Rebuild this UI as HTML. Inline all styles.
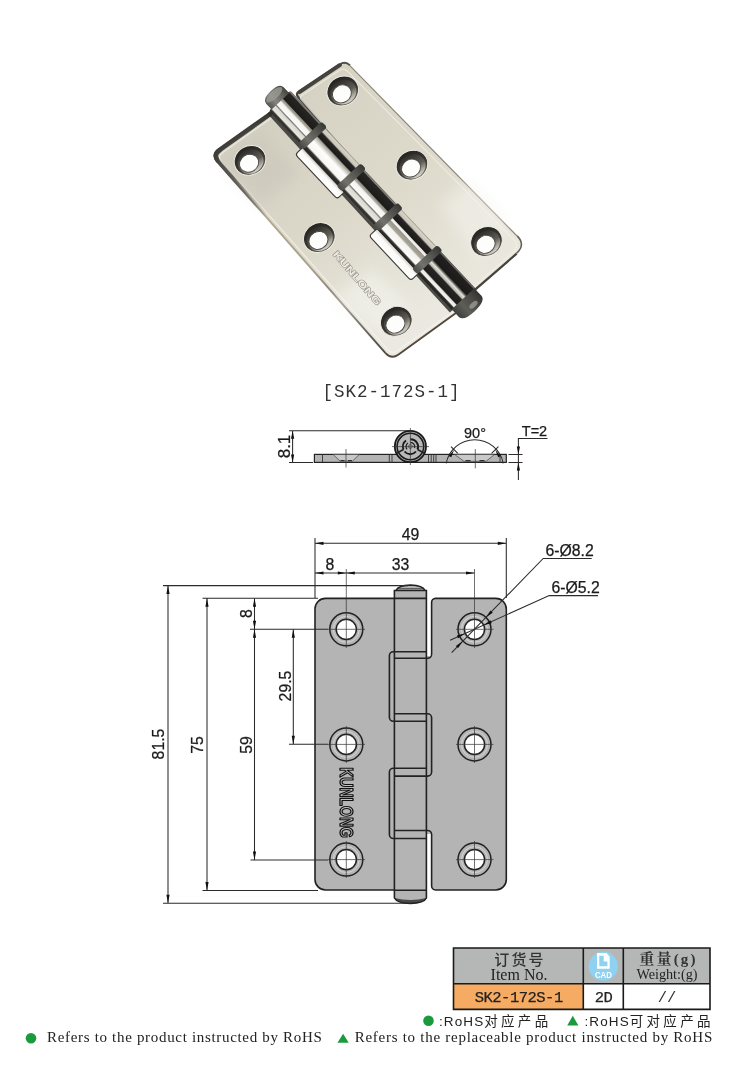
<!DOCTYPE html>
<html lang="zh">
<head>
<meta charset="utf-8">
<title>SK2-172S-1</title>
<style>
html,body{margin:0;padding:0;background:#fff;}
body{width:750px;height:1075px;overflow:hidden;position:relative;}
svg{display:block;position:absolute;left:0;top:0;will-change:transform;}
text{-webkit-font-smoothing:antialiased;}
.d{font-family:"Liberation Sans",sans-serif;font-size:15.800px;fill:#1a1a1a;stroke:#1a1a1a;stroke-width:0.250px;}
.ln{stroke:#2e2a2a;stroke-width:1.050;fill:none;}
.ol{stroke:#222;stroke-width:1.6;fill:none;}
.ar{fill:#111;stroke:none;}
.cl{stroke:#333;stroke-width:0.7;fill:none;}
</style>
</head>
<body>
<svg width="750" height="1075" viewBox="0 0 750 1075">
<defs>
<!--DEFS_S-->
<filter id="bl" x="-30%" y="-30%" width="160%" height="160%"><feGaussianBlur stdDeviation="7"/></filter>
<linearGradient id="gL" gradientUnits="userSpaceOnUse" x1="240" y1="130" x2="420" y2="335">
<stop offset="0" stop-color="#d3d0c1"/><stop offset="0.450" stop-color="#dbd8c9"/><stop offset="0.800" stop-color="#e6e4d9"/><stop offset="1" stop-color="#ebe9e1"/>
</linearGradient>
<linearGradient id="gR" gradientUnits="userSpaceOnUse" x1="330" y1="75" x2="500" y2="265">
<stop offset="0" stop-color="#d6d3c4"/><stop offset="0.500" stop-color="#dddacb"/><stop offset="1" stop-color="#eae8de"/>
</linearGradient>
<linearGradient id="gEdge" gradientUnits="userSpaceOnUse" x1="213.0" y1="155.0" x2="391.5" y2="358.5">
<stop offset="0" stop-color="#3d3b36"/><stop offset="0.160" stop-color="#45433d"/><stop offset="0.300" stop-color="#b0a78f"/><stop offset="0.560" stop-color="#a8a08a"/><stop offset="0.760" stop-color="#6b685f"/><stop offset="1" stop-color="#4a4842"/>
</linearGradient>
<linearGradient id="gEdgeIn" gradientUnits="userSpaceOnUse" x1="213" y1="155" x2="266" y2="216">
<stop offset="0" stop-color="#3d3b36"/><stop offset="0.350" stop-color="#4a4842"/><stop offset="1" stop-color="#8e8b80" stop-opacity="0"/>
</linearGradient>
<linearGradient id="gH" x1="0" y1="0" x2="0" y2="1">
<stop offset="0" stop-color="#262421"/><stop offset="0.600" stop-color="#3b3934"/><stop offset="1" stop-color="#6d6a61"/>
</linearGradient>
<linearGradient id="gH2" x1="0" y1="0" x2="0" y2="1">
<stop offset="0" stop-color="#2f2d29"/><stop offset="0.550" stop-color="#5f5c54"/><stop offset="0.820" stop-color="#aeaba1"/><stop offset="1" stop-color="#d5d2c9"/>
</linearGradient>
<linearGradient id="gB1" x1="0" y1="0" x2="1" y2="0">
<stop offset="0" stop-color="#2a2926"/><stop offset="0.070" stop-color="#3a3935"/><stop offset="0.120" stop-color="#e9e7e1"/><stop offset="0.260" stop-color="#dcd9d1"/><stop offset="0.300" stop-color="#77746c"/><stop offset="0.340" stop-color="#fbfbf9"/><stop offset="0.500" stop-color="#f4f3ef"/><stop offset="0.540" stop-color="#b3b0a6"/><stop offset="0.610" stop-color="#8c897f"/><stop offset="0.640" stop-color="#1d1c1a"/><stop offset="0.920" stop-color="#262522"/><stop offset="0.960" stop-color="#8b8982"/><stop offset="1" stop-color="#55534e"/>
</linearGradient>
<linearGradient id="gB2" x1="0" y1="0" x2="1" y2="0">
<stop offset="0" stop-color="#22211f"/><stop offset="0.100" stop-color="#34332f"/><stop offset="0.160" stop-color="#f7f6f3"/><stop offset="0.400" stop-color="#fdfdfc"/><stop offset="0.500" stop-color="#d2cfc6"/><stop offset="0.590" stop-color="#a29f95"/><stop offset="0.630" stop-color="#1c1b19"/><stop offset="0.800" stop-color="#262523"/><stop offset="0.850" stop-color="#c9c6b9"/><stop offset="0.960" stop-color="#d6d3c6"/><stop offset="1" stop-color="#8a877c"/>
</linearGradient>
<linearGradient id="gB4" x1="0" y1="0" x2="1" y2="0">
<stop offset="0" stop-color="#22211f"/><stop offset="0.080" stop-color="#34332f"/><stop offset="0.130" stop-color="#fbfaf8"/><stop offset="0.330" stop-color="#f3f2ee"/><stop offset="0.380" stop-color="#a8a499"/><stop offset="0.500" stop-color="#9a968a"/><stop offset="0.530" stop-color="#f6f5f2"/><stop offset="0.590" stop-color="#e6e4de"/><stop offset="0.620" stop-color="#1c1b19"/><stop offset="0.800" stop-color="#252422"/><stop offset="0.850" stop-color="#c9c6b9"/><stop offset="0.960" stop-color="#d6d3c6"/><stop offset="1" stop-color="#8a877c"/>
</linearGradient>
<linearGradient id="gB5" x1="0" y1="0" x2="1" y2="0">
<stop offset="0" stop-color="#22211f"/><stop offset="0.080" stop-color="#2e2d2a"/><stop offset="0.120" stop-color="#f4f3ef"/><stop offset="0.200" stop-color="#e9e7e1"/><stop offset="0.240" stop-color="#1f1e1c"/><stop offset="0.440" stop-color="#262523"/><stop offset="0.480" stop-color="#b9b6ad"/><stop offset="0.560" stop-color="#e4e2dc"/><stop offset="0.620" stop-color="#6b6860"/><stop offset="0.660" stop-color="#1b1a18"/><stop offset="0.930" stop-color="#222120"/><stop offset="0.970" stop-color="#6e6c66"/><stop offset="1" stop-color="#3e3d39"/>
</linearGradient>
<linearGradient id="gSlot" x1="0" y1="0" x2="1" y2="0">
<stop offset="0" stop-color="#ffffff"/><stop offset="0.650" stop-color="#fafaf8"/><stop offset="1" stop-color="#c9c7c0"/>
</linearGradient>
<linearGradient id="gRing" x1="0" y1="0" x2="1" y2="0">
<stop offset="0" stop-color="#474743"/><stop offset="0.300" stop-color="#73736e"/><stop offset="0.550" stop-color="#5f5f5a"/><stop offset="1" stop-color="#373734"/>
</linearGradient>
<linearGradient id="gCap2" x1="0" y1="0" x2="1" y2="0">
<stop offset="0" stop-color="#3f3f3b"/><stop offset="0.350" stop-color="#5e5e59"/><stop offset="0.700" stop-color="#4a4a46"/><stop offset="1" stop-color="#333330"/>
</linearGradient>
<linearGradient id="gCap" x1="0" y1="0" x2="1" y2="0">
<stop offset="0" stop-color="#55554f"/><stop offset="0.350" stop-color="#86867f"/><stop offset="0.700" stop-color="#66665f"/><stop offset="1" stop-color="#45453f"/>
</linearGradient>
<!--DEFS_E-->
</defs>
<rect width="750" height="1075" fill="#fff"/>
<!--PHOTO_S-->
<g id="photo">
<path d="M515.9,252.8 L471.5,291.2 Q470.0,292.5 468.7,291.0 L299.0,96.3 Q297.0,94.0 299.5,92.3 L340.2,65.1" fill="none" stroke="#45433d" stroke-width="4.500" stroke-linejoin="round"/>
<path d="M340.2,65.1 Q345.2,61.8 349.4,66.1" fill="none" stroke="#4f4d46" stroke-width="3.600"/>
<path d="M516.6,236.4 Q525.0,245.0 515.9,252.8" fill="none" stroke="#605d55" stroke-width="3.200"/>
<path d="M349.4,66.1 L516.6,236.4" fill="none" stroke="#8a8779" stroke-width="2.400"/>
<path d="M299.0,96.3 Q297.0,94.0 299.5,92.3 L340.2,65.1 Q345.2,61.8 349.4,66.1 L516.6,236.4 Q525.0,245.0 515.9,252.8 L471.5,291.2 Q470.0,292.5 468.7,291.0 Z" fill="url(#gR)"/>
<path d="M299.5,92.3 L340.2,65.1" fill="none" stroke="#45433d" stroke-width="3.600" stroke-linecap="round"/>
<path d="M302.0,98.3 Q300.0,96.0 302.5,94.3 L340.5,69.1 Q344.7,66.3 348.2,69.9 L514.0,237.9 Q521.0,245.0 513.5,251.6 L471.5,288.2 Q470.0,289.5 468.7,288.0 Z" fill="none" stroke="#f3f1ea" stroke-width="1.200" opacity="0.700" transform="translate(-0.800,1.200)"/>
<path d="M455.4,312.2 L398.0,353.8 Q391.5,358.5 386.2,352.5" fill="none" stroke="#54483c" stroke-width="3.800" stroke-linejoin="round"/>
<path d="M218.3,161.0 Q213.0,155.0 219.5,150.4 L270.4,114.2 Q272.0,113.0 273.4,114.5" fill="none" stroke="#3d3b36" stroke-width="5" stroke-linejoin="round"/>
<path d="M218.3,161.0 L386.2,352.5" fill="none" stroke="url(#gEdge)" stroke-width="3.800"/>
<path d="M218.3,161.0 Q213.0,155.0 219.5,150.4 L270.4,114.2 Q272.0,113.0 273.4,114.5 L455.6,309.5 Q457.0,311.0 455.4,312.2 L398.0,353.8 Q391.5,358.5 386.2,352.5 Z" fill="url(#gL)"/>
<path d="M219.5,150.4 L270.4,114.2" fill="none" stroke="#3d3b36" stroke-width="4" stroke-linecap="round"/>
<path d="M219.5,150.4 Q213.0,155.0 218.3,161.0 L266.6,216.1" fill="none" stroke="url(#gEdgeIn)" stroke-width="4.500" stroke-linecap="round"/>
<path d="M221.6,161.7 Q217.0,156.5 222.7,152.5 L270.4,118.7 Q272.0,117.5 273.4,119.0 L452.6,309.5 Q454.0,311.0 452.4,312.1 L397.7,350.5 Q392.0,354.5 387.4,349.3 Z" fill="none" stroke="#f7f5ef" stroke-width="1.300" opacity="0.700"/>
<path d="M330,300 L372,268 L410,308 L392,340 Z" fill="#f6f5f0" opacity="0.550" filter="url(#bl)"/>
<path d="M440,205 L470,180 L508,222 L480,262 Z" fill="#f4f3ee" opacity="0.500" filter="url(#bl)"/>
<path d="M222,160 L262,130 L300,172 L262,205 Z" fill="#c6c3b8" opacity="0.450" filter="url(#bl)"/>
<g transform="translate(250.0,160.4) rotate(-30)">
<ellipse rx="16.200" ry="14.500" fill="url(#gH)" stroke="#f2f0e9" stroke-width="0.900"/>
<ellipse rx="13.300" ry="12" cx="0" cy="1.200" fill="url(#gH2)"/>
<ellipse rx="9.800" ry="8.700" cx="-2.200" cy="2" fill="#fdfdfc" stroke="#4a4741" stroke-width="0.900"/>
</g>
<g transform="translate(319.3,237.6) rotate(-30)">
<ellipse rx="16.200" ry="14.500" fill="url(#gH)" stroke="#f2f0e9" stroke-width="0.900"/>
<ellipse rx="13.300" ry="12" cx="0" cy="1.200" fill="url(#gH2)"/>
<ellipse rx="9.800" ry="8.700" cx="-2.200" cy="2" fill="#fdfdfc" stroke="#4a4741" stroke-width="0.900"/>
</g>
<g transform="translate(396.3,321.3) rotate(-30)">
<ellipse rx="16.200" ry="14.500" fill="url(#gH)" stroke="#f2f0e9" stroke-width="0.900"/>
<ellipse rx="13.300" ry="12" cx="0" cy="1.200" fill="url(#gH2)"/>
<ellipse rx="9.800" ry="8.700" cx="-2.200" cy="2" fill="#fdfdfc" stroke="#4a4741" stroke-width="0.900"/>
</g>
<g transform="translate(342.8,91.0) rotate(-30)">
<ellipse rx="16.200" ry="14.500" fill="url(#gH)" stroke="#f2f0e9" stroke-width="0.900"/>
<ellipse rx="13.300" ry="12" cx="0" cy="1.200" fill="url(#gH2)"/>
<ellipse rx="9.800" ry="8.700" cx="-2.200" cy="2" fill="#fdfdfc" stroke="#4a4741" stroke-width="0.900"/>
</g>
<g transform="translate(412.0,165.2) rotate(-30)">
<ellipse rx="16.200" ry="14.500" fill="url(#gH)" stroke="#f2f0e9" stroke-width="0.900"/>
<ellipse rx="13.300" ry="12" cx="0" cy="1.200" fill="url(#gH2)"/>
<ellipse rx="9.800" ry="8.700" cx="-2.200" cy="2" fill="#fdfdfc" stroke="#4a4741" stroke-width="0.900"/>
</g>
<g transform="translate(486.5,241.5) rotate(-30)">
<ellipse rx="16.200" ry="14.500" fill="url(#gH)" stroke="#f2f0e9" stroke-width="0.900"/>
<ellipse rx="13.300" ry="12" cx="0" cy="1.200" fill="url(#gH2)"/>
<ellipse rx="9.800" ry="8.700" cx="-2.200" cy="2" fill="#fdfdfc" stroke="#4a4741" stroke-width="0.900"/>
</g>
<text transform="translate(332.400,254.500) rotate(49.300)" font-family="Liberation Sans,sans-serif" font-weight="bold" font-size="9.500px" textLength="68" lengthAdjust="spacingAndGlyphs" fill="#eeece5" stroke="#8f8c82" stroke-width="1" paint-order="stroke">KUNLONG</text>
<g transform="translate(269.7,92.1) rotate(-43.2)">
<path d="M-16.500,14 h6 v270 h-9z" fill="#2f2e2a" opacity="0.850"/>
<path d="M-24,66 q0,-3 3,-3 h7 v61 h-7 q-3,0 -3,-3z" fill="url(#gSlot)" stroke="#3a3833" stroke-width="1.100"/>
<path d="M-26,176 q0,-3 3,-3 h8 v61 h-8 q-3,0 -3,-3z" fill="url(#gSlot)" stroke="#3a3833" stroke-width="1.100"/>
<rect x="-13.0" y="13" width="29.0" height="46" rx="2" fill="url(#gB1)"/>
<rect x="-13.8" y="63" width="29.7" height="53" rx="2" fill="url(#gB2)"/>
<rect x="-14.6" y="120" width="30.4" height="50" rx="2" fill="url(#gB1)"/>
<rect x="-15.5" y="174" width="31.2" height="54" rx="2" fill="url(#gB4)"/>
<rect x="-16.4" y="232" width="32.0" height="53" rx="2" fill="url(#gB5)"/>
<rect x="-14.6" y="57" width="32.4" height="8" rx="3" fill="url(#gRing)"/>
<rect x="-15.4" y="114" width="33.1" height="8" rx="3" fill="url(#gRing)"/>
<rect x="-16.2" y="168" width="33.8" height="8" rx="3" fill="url(#gRing)"/>
<rect x="-17.1" y="226" width="34.6" height="8" rx="3" fill="url(#gRing)"/>
<path d="M-10.500,14 V6 q0,-6 12,-6 q12,0 12,6 V14z" fill="url(#gCap)"/>
<ellipse cx="1.500" cy="5" rx="10.500" ry="4" fill="#9b9b95" opacity="0.800"/>
<path d="M-16,283 V293 q0,7 15.500,7 q15.500,0 15.500,-7 V283z" fill="url(#gCap2)"/>
<ellipse cx="3" cy="294.500" rx="5" ry="2.500" fill="#a5a5a0" opacity="0.700"/>
</g>
</g>
<!--PHOTO_E-->
<!--LABEL_S-->
<text x="391.600" y="397.100" text-anchor="middle" font-family="Liberation Mono,monospace" font-size="17.500px" letter-spacing="1" fill="#333">[SK2-172S-1]</text>
<!--LABEL_E-->
<!--SIDE_S-->
<g id="side">
<!-- plate -->
<rect x="314.400" y="454.400" width="191.900" height="8" fill="#b4b4b4" stroke="#222" stroke-width="1.200"/>
<!-- countersinks lighter -->
<path d="M333,454.400 H359.500 L352.500,461 H340z" fill="#c9c9c9" stroke="#444" stroke-width="0.700"/>
<path d="M454.500,454.400 H494.800 L486,461.300 H464z" fill="#c9c9c9" stroke="#444" stroke-width="0.700"/>
<path d="M340.500,460.700 h4 M348,460.700 h4 M465.500,460.700 h5 M479.500,460.700 h5" stroke="#333" stroke-width="1.300"/>
<path d="M322.500,454.400 v8 M389.300,454.400 v8 M392,454.400 v8 M428.500,454.400 v8 M431.200,454.400 v8 M433.700,454.400 v8 M436,454.400 v8 M500,454.400 v8" stroke="#333" stroke-width="0.900"/>
<!-- barrel -->
<circle cx="410.400" cy="446.500" r="15.600" fill="#b4b4b4" stroke="#1a1a1a" stroke-width="1.800"/>
<circle cx="410.400" cy="446.500" r="13.300" fill="#b9b9b9" stroke="#1a1a1a" stroke-width="1.500"/>
<path d="M403.500,449.500 A7.500,7.500 0 0 1 406,440.500 M410.400,439.300 A7.300,7.300 0 0 1 417.500,449.500 M404.500,451.500 A7.500,7.500 0 0 0 416,451.500" fill="none" stroke="#1a1a1a" stroke-width="1.900"/>
<path d="M410.400,442.300 A4.300,4.300 0 0 1 414.500,448 M407,449.300 A4.300,4.300 0 0 1 408,443" fill="none" stroke="#222" stroke-width="1.300"/>
<circle cx="410.400" cy="446.500" r="1.800" fill="#ddd" stroke="#333" stroke-width="0.800"/>
<path d="M403.500,449.500 L397,453 M417.500,449.500 L424,453" stroke="#222" stroke-width="1.500" fill="none"/>
<path class="cl" d="M392,446.600 H429 M410.400,428 V465"/>
<path class="cl" d="M346,449 V467.500 M475.300,449 V468.300"/>
<!-- 8.1 dim -->
<path class="ln" d="M289,430.700 H410 M289,462.400 H313 M292.600,430.700 V462.400"/>
<path class="ar" d="M292.600,430.700 l-1.600,8 h3.200z M292.600,462.400 l-1.600,-8 h3.200z"/>
<text class="d" style="font-size:17px" transform="translate(290.300,446.500) rotate(-90)" text-anchor="middle">8.1</text>
<!-- 90 deg -->
<path class="ln" d="M446.200,463.300 A29,29 0 0 1 503.200,463.300"/>
<path class="ln" d="M457.800,453.400 L451,446.600 M491.600,453.400 L498.400,446.600"/>
<path class="ar" d="M454.200,449.800 l-5.500,6.200 l2.500,1.300z M495.200,449.800 l5.500,6.200 l-2.500,1.300z"/>
<text class="d" style="font-size:14.500px" x="475" y="438.300" text-anchor="middle">90°</text>
<!-- T=2 -->
<path class="ln" d="M547.500,438.500 H518.400 V480 M508.500,454.500 H522.500 M508.500,462.500 H522.500"/>
<path class="ar" d="M518.400,454.500 l-1.600,-8 h3.200z M518.400,462.500 l-1.600,8 h3.200z"/>
<text class="d" style="font-size:14.500px" x="534.500" y="435.500" text-anchor="middle">T=2</text>
</g>
<!--SIDE_E-->
<g id="front">
<!-- leaves -->
<path d="M325.5,598.4 H394.5 V890 H325.5 a10.5,10.5 0 0 1 -10.5,-10.5 V608.9 a10.5,10.5 0 0 1 10.5,-10.5z" fill="#b4b4b4"/>
<path d="M435.5,598.4 H495.8 a10.5,10.5 0 0 1 10.5,10.5 V879.5 a10.5,10.5 0 0 1 -10.5,10.5 H435.5 a4,4 0 0 1 -3.8,-4 V602.4 a4,4 0 0 1 3.8,-4z" fill="#b4b4b4"/>
<!-- pin body -->
<path d="M394.400,590.500 L396,590.500 Q398,585.300 410.400,585 Q423,585.300 425,590.500 L426.400,590.500 V898 Q424,903.200 410.400,903.500 Q397,903.200 394.400,898z" fill="#b4b4b4"/>
<path d="M394.400,898 Q397,903.200 410.400,903.500 Q424,903.200 426.400,898 Q410.400,902 394.400,898z" fill="#4a4a4a"/>
<!-- fill gap zone (426-432) for knuckles 2,3,4 -->
<rect x="426" y="656" width="6" height="178" fill="#b4b4b4"/>
<!-- outlines -->
<path class="ol" d="M394.5,598.400 H325.5 a10.5,10.5 0 0 0 -10.5,10.500 V879.5 a10.5,10.5 0 0 0 10.5,10.5 H394.5"/>
<path class="ol" d="M394.400,658.300 H427.600 a4,4 0 0 0 4,-4 V602.400 a4,4 0 0 1 3.900,-4 H495.800 a10.5,10.5 0 0 1 10.5,10.500 V879.500 a10.5,10.5 0 0 1 -10.5,10.5 H435.500 a4,4 0 0 1 -3.900,-4 V834.500 a4,4 0 0 0 -4,-4 H394.400"/>
<!-- pin -->
<path class="ol" d="M394.400,898 V590.500 H426.400 V898 Q424,903.200 410.400,903.500 Q397,903.200 394.400,898"/>
<path class="ol" d="M396,590.500 Q398,585.300 410.400,585 Q423,585.300 425,590.500" stroke-width="1.300"/>
<path d="M397.500,588.700 H423.300" stroke="#333" stroke-width="0.800" fill="none"/>
<path class="ol" d="M394.400,598.400 H426.400 M394.400,890.300 H426.400" />
<!-- left cutouts (knuckles 2 and 4) -->
<path class="ol" d="M426.400,651.700 H393.400 a4,4 0 0 0 -4,4 V717.300 a4,4 0 0 0 4,4 H426.400"/>
<path class="ol" d="M426.400,768.200 H393.400 a4,4 0 0 0 -4,4 V834.500 a4,4 0 0 0 4,4 H426.400"/>
<!-- knuckle 3 right outline -->
<path class="ol" d="M394.400,713.800 H427.600 a4,4 0 0 1 4,4 V772.100 a4,4 0 0 1 -4,4 H394.400"/>
<!-- holes -->
<g id="holes">
<g fill="#b4b4b4" stroke="#222" stroke-width="1.500">
<circle cx="346.300" cy="629.300" r="16.500"/><circle cx="474.500" cy="629.300" r="16.500"/>
<circle cx="346.300" cy="744.400" r="16.500"/><circle cx="474.500" cy="744.400" r="16.500"/>
<circle cx="346.300" cy="859.600" r="16.500"/><circle cx="474.500" cy="859.600" r="16.500"/>
</g>
<g fill="none" stroke="#dcdcdc" stroke-width="0.800">
<circle cx="346.3" cy="629.3" r="13"/><circle cx="474.5" cy="629.3" r="13"/>
<circle cx="346.3" cy="744.4" r="13"/><circle cx="474.5" cy="744.4" r="13"/>
<circle cx="346.3" cy="859.6" r="13"/><circle cx="474.5" cy="859.6" r="13"/>
</g>
<g fill="#fff" stroke="#222" stroke-width="1.500">
<circle cx="346.3" cy="629.3" r="10.100"/><circle cx="474.5" cy="629.3" r="10.100"/>
<circle cx="346.3" cy="744.4" r="10.100"/><circle cx="474.5" cy="744.4" r="10.100"/>
<circle cx="346.3" cy="859.6" r="10.100"/><circle cx="474.5" cy="859.6" r="10.100"/>
</g>
</g>
<!-- centre lines -->
<g class="cl">
<path d="M328,629.300 H365 M346.300,569 V648 M456,629.300 H493.500 M474.500,569 V648"/>
<path d="M328,744.400 H365 M346.300,726 V763 M456,744.400 H493.500 M474.500,726 V763"/>
<path d="M328,859.600 H365 M346.300,841 V878 M456,859.600 H493.500 M474.500,841 V878"/>
</g>
<!-- KUNLONG vertical logo -->
<text transform="translate(340.200,767.300) rotate(90)" font-family="Liberation Sans,sans-serif" font-weight="bold" font-size="18px" textLength="70.500" lengthAdjust="spacingAndGlyphs" fill="#c2c2c2" stroke="#111" stroke-width="1.300" stroke-linejoin="round">KUNLONG</text>
<!-- top dims -->
<path class="ln" d="M315,598 V538 M506.300,598 V538 M315,543.300 H506.300"/>
<path class="ar" d="M315,543.300 l8.500,-1.600 v3.200z M506.300,543.300 l-8.500,-1.600 v3.200z"/>
<text class="d" x="410.600" y="540" text-anchor="middle">49</text>
<path class="ln" d="M315,573 H474.500"/>
<path class="ar" d="M315,573 l8.500,-1.600 v3.200z M346.300,573 l-8.500,-1.600 v3.200z M346.300,573 l8.500,-1.600 v3.200z M474.500,573 l-8.500,-1.600 v3.200z"/>
<text class="d" x="330" y="570" text-anchor="middle">8</text>
<text class="d" x="400.500" y="570" text-anchor="middle">33</text>
<!-- left dims -->
<path class="ln" d="M163,585.600 H408 M163,903.300 H408 M168,585.600 V903.300"/>
<path class="ar" d="M168,585.600 l-1.600,8.500 h3.200z M168,903.300 l-1.600,-8.500 h3.200z"/>
<path class="ln" d="M202.500,598.200 H318 M202.500,890.500 H318 M207,598.200 V890.500"/>
<path class="ar" d="M207,598.200 l-1.600,8.500 h3.200z M207,890.500 l-1.600,-8.500 h3.200z"/>
<path class="ln" d="M250,629.300 H328 M250.500,860 H328 M254.500,598.200 V860"/>
<path class="ar" d="M254.500,598.200 l-1.600,8.500 h3.200z M254.500,629.300 l-1.600,-8.500 h3.200z M254.500,629.300 l-1.600,8.500 h3.200z M254.500,860 l-1.600,-8.500 h3.200z"/>
<path class="ln" d="M289,744.300 H328 M293.300,629.300 V744.300"/>
<path class="ar" d="M293.300,629.300 l-1.600,8.500 h3.200z M293.300,744.300 l-1.600,-8.500 h3.200z"/>
<text class="d" transform="translate(251.500,613.500) rotate(-90)" text-anchor="middle">8</text>
<text class="d" transform="translate(290.500,686) rotate(-90)" text-anchor="middle">29.5</text>
<text class="d" transform="translate(251.500,745) rotate(-90)" text-anchor="middle">59</text>
<text class="d" transform="translate(202.500,745) rotate(-90)" text-anchor="middle">75</text>
<text class="d" transform="translate(163.700,744) rotate(-90)" text-anchor="middle">81.5</text>
<!-- callouts -->
<path class="ln" d="M591.700,558.400 H543.200 L451.700,652.600"/>
<path class="ar" d="M486,617.300 l6.750,-4.580 l-2.300,-2.240z M462.600,641.300 l-4.450,6.820 l-2.300,-2.240z"/>
<path class="ln" d="M598,595.600 H549.200 L450.100,640.200"/>
<path class="ar" d="M483.800,625 l7.960,-1.820 l-1.310,-2.920z M464.800,633.600 l-6.640,4.740 l-1.310,-2.920z"/>
<text class="d" x="545.500" y="555.500">6-Ø8.2</text>
<text class="d" x="551.500" y="592.700">6-Ø5.2</text>
</g>
<!--FRONT_END-->
<!--TABLE_S-->
<g id="table">
<rect x="453.500" y="948" width="256.500" height="35.800" fill="#b5b7b6"/>
<rect x="453.500" y="983.800" width="130" height="25.600" fill="#f5ab62"/>
<path d="M453.500,948 H710 V1009.400 H453.500z M453.500,983.800 H710 M583.300,948 V1009.400 M623.300,948 V1009.400" fill="none" stroke="#1a1a1a" stroke-width="1.600"/>
<text x="520" y="965.300" text-anchor="middle" font-family="Liberation Sans,Noto Sans CJK SC,sans-serif" font-size="15px" font-weight="500" letter-spacing="2.200" fill="#333">订货号</text>
<text x="519" y="979.500" text-anchor="middle" font-family="Liberation Serif,serif" font-size="16px" fill="#222">Item No.</text>
<text x="518.700" y="1002" text-anchor="middle" font-family="Liberation Mono,monospace" font-size="15.500px" letter-spacing="-0.500" fill="#222" stroke="#222" stroke-width="0.250">SK2-172S-1</text>
<!-- CAD icon -->
<circle cx="603.300" cy="966.200" r="14.600" fill="#8fd1f1"/>
<path d="M597,953 h9.400 l3.300,3.700 v12 h-12.700z" fill="#fff"/>
<path d="M599.300,955.700 h4.400 v5.800 h3.700 v4.800 h-8.100z" fill="#8fd1f1"/>
<text x="603.400" y="977.700" text-anchor="middle" font-family="Liberation Sans,sans-serif" font-size="9px" font-weight="bold" textLength="17" lengthAdjust="spacingAndGlyphs" fill="#fff">CAD</text>
<text x="668.500" y="964" text-anchor="middle" font-family="Liberation Serif,Noto Serif CJK SC,serif" font-size="15px" font-weight="bold" letter-spacing="2.200" fill="#333">重量(g)</text>
<text x="667" y="979" text-anchor="middle" font-family="Liberation Serif,serif" font-size="14.200px" fill="#222">Weight:(g)</text>
<text x="603.500" y="1001.700" text-anchor="middle" font-family="Liberation Mono,monospace" font-size="15.500px" letter-spacing="-0.500" fill="#222" stroke="#222" stroke-width="0.250">2D</text>
<text x="667" y="1001.700" text-anchor="middle" font-family="Liberation Mono,monospace" font-size="15.500px" letter-spacing="0" fill="#333">//</text>
</g>
<!--TABLE_E-->
<!--FOOTER_S-->
<g id="footer">
<circle cx="428.500" cy="1020.800" r="5.300" fill="#1a9a3c"/>
<text x="439" y="1025.800" font-family="Liberation Sans,Noto Sans CJK SC,sans-serif" font-size="13.500px" fill="#222"><tspan letter-spacing="1.100">:RoHS</tspan><tspan letter-spacing="3.300">对应产品</tspan></text>
<path d="M572.800,1015.800 l5.600,9.600 h-11.200z" fill="#1a9a3c"/>
<text x="584.500" y="1025.800" font-family="Liberation Sans,Noto Sans CJK SC,sans-serif" font-size="13.500px" fill="#222"><tspan letter-spacing="1.100">:RoHS</tspan><tspan letter-spacing="3.300">可对应产品</tspan></text>
<circle cx="31" cy="1038.300" r="5.300" fill="#1a9a3c"/>
<text x="47" y="1042.300" font-family="Liberation Serif,serif" font-size="15px" letter-spacing="0.680" fill="#222">Refers to the product instructed by RoHS</text>
<path d="M343.100,1033.800 l5.600,9 h-11.200z" fill="#1a9a3c"/>
<text x="354.700" y="1042.300" font-family="Liberation Serif,serif" font-size="15px" letter-spacing="0.730" fill="#222">Refers to the replaceable product instructed by RoHS</text>
</g>
<!--FOOTER_E-->
</svg>
</body>
</html>
